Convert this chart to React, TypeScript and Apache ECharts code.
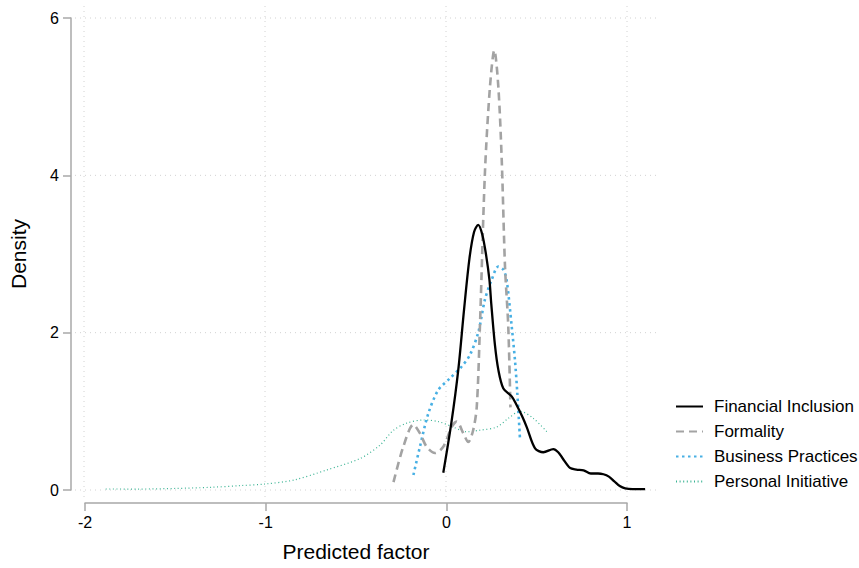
import React, { useEffect, useRef } from "react";
import * as echarts from "echarts";

// Financial Inclusion
const fiX = [-0.015, 0.03, 0.068, 0.10, 0.13, 0.155, 0.178, 0.20, 0.222, 0.24, 0.25, 0.27, 0.289, 0.317, 0.363, 0.39, 0.42, 0.446, 0.492, 0.538, 0.593, 0.62, 0.645, 0.685, 0.72, 0.76, 0.80, 0.84, 0.87, 0.90, 0.93, 0.96, 0.99, 1.03, 1.10];
const fiY = [0.22, 0.86, 1.53, 2.30, 2.95, 3.28, 3.37, 3.25, 2.98, 2.67, 2.37, 1.85, 1.53, 1.29, 1.19, 1.08, 0.94, 0.80, 0.53, 0.48, 0.52, 0.48, 0.40, 0.28, 0.26, 0.25, 0.21, 0.21, 0.20, 0.17, 0.11, 0.05, 0.02, 0.01, 0.01];

// Formality
const foX = [-0.29, -0.236, -0.18, -0.144, -0.107, -0.061, -0.015, 0.031, 0.059, 0.096, 0.123, 0.15, 0.17, 0.188, 0.215, 0.243, 0.267, 0.289, 0.308, 0.326, 0.344, 0.356];
const foY = [0.10, 0.55, 0.83, 0.72, 0.55, 0.47, 0.55, 0.80, 0.87, 0.72, 0.61, 0.76, 1.06, 2.12, 4.03, 5.13, 5.59, 5.13, 4.19, 2.84, 2.08, 1.05];

// Business Practices
const bpX = [-0.18, -0.144, -0.098, -0.043, 0.022, 0.087, 0.133, 0.179, 0.215, 0.252, 0.289, 0.317, 0.335, 0.363, 0.381, 0.394, 0.409];
const bpY = [0.19, 0.55, 0.97, 1.27, 1.42, 1.57, 1.72, 2.01, 2.42, 2.67, 2.84, 2.80, 2.67, 2.08, 1.65, 1.23, 0.64];

// Personal Initiative
const piX = [-1.88, -1.7, -1.49, -1.3, -1.14, -1.0, -0.84, -0.66, -0.475, -0.365, -0.29, -0.217, -0.125, -0.043, 0.04, 0.114, 0.188, 0.28, 0.344, 0.409, 0.483, 0.565];
const piY = [0.013, 0.012, 0.02, 0.034, 0.055, 0.076, 0.127, 0.254, 0.40, 0.57, 0.76, 0.85, 0.89, 0.87, 0.80, 0.74, 0.76, 0.80, 0.91, 1.0, 0.91, 0.72];

const seriesNames = ["Financial Inclusion", "Formality", "Business Practices", "Personal Initiative"];
const xTicks = [-2, -1, 0, 1];
const yTicks = [0, 2, 4, 6];

// plot region extent (in data units), slightly wider than the axis ranges
const PX_MIN = -2 - 9 / 181;
const PX_MAX = 1 + 31 / 181;
const PY_MIN = -7 / 78.667;
const PY_MAX = 6 + 12 / 78.667;

const zip = (xs: number[], ys: number[]) => xs.map((x, i) => [x, ys[i]]);

export default function App() {
  const ref = useRef<HTMLDivElement>(null);
  useEffect(() => {
    if (!ref.current) return;
    const chart = echarts.init(ref.current, null, { renderer: "svg" });
    const font = "Liberation Sans, Arial, Helvetica, sans-serif";
    const axisColor = "#a8a8a8";

    const lineSeries = (name: string, xs: number[], ys: number[], color: string, width: number, type: any, z: number) => ({
      name,
      type: "line",
      xAxisIndex: 0,
      yAxisIndex: 0,
      data: zip(xs, ys),
      symbol: "none",
      smooth: 0.3,
      clip: false,
      z,
      lineStyle: { color, width, type },
      itemStyle: { color },
    });

    chart.setOption({
      animation: false,
      backgroundColor: "#ffffff",
      textStyle: { fontFamily: font },
      grid: [
        // plot region (data)
        { left: 75, right: 201, top: 6, bottom: 71, containLabel: false },
        // visible axes, spanning the tick range only
        { left: 84, right: 232, top: 18, bottom: 78, containLabel: false },
      ],
      xAxis: [
        { type: "value", gridIndex: 0, min: PX_MIN, max: PX_MAX, show: false },
        {
          type: "value",
          gridIndex: 1,
          min: -2,
          max: 1,
          interval: 1,
          offset: 13,
          axisLine: { show: true, onZero: false, lineStyle: { color: axisColor, width: 1.5 } },
          axisTick: { show: true, length: 8, lineStyle: { color: axisColor, width: 1.5 } },
          axisLabel: { fontSize: 16, color: "#000", margin: 11, fontFamily: font },
          splitLine: { show: false },
          name: "Predicted factor",
          nameLocation: "middle",
          nameGap: 38,
          nameTextStyle: { fontSize: 21, color: "#000", fontFamily: font },
        },
      ],
      yAxis: [
        { type: "value", gridIndex: 0, min: PY_MIN, max: PY_MAX, show: false },
        {
          type: "value",
          gridIndex: 1,
          min: 0,
          max: 6,
          interval: 2,
          offset: 14,
          axisLine: { show: true, onZero: false, lineStyle: { color: axisColor, width: 1.5 } },
          axisTick: { show: true, length: 8, lineStyle: { color: axisColor, width: 1.5 } },
          axisLabel: { fontSize: 16, color: "#000", margin: 12, fontFamily: font },
          splitLine: { show: false },
          name: "Density",
          nameLocation: "middle",
          nameGap: 42,
          nameTextStyle: { fontSize: 21, color: "#000", fontFamily: font },
        },
      ],
      legend: {
        orient: "vertical",
        left: 670,
        top: 393,
        itemWidth: 27,
        itemHeight: 14,
        itemGap: 8,
        data: seriesNames,
        itemStyle: { opacity: 0 },
        textStyle: { fontSize: 17, color: "#000", fontFamily: font, padding: [0, 0, 0, 6] },
      },
      series: [
        lineSeries(seriesNames[3], piX, piY, "#3ab393", 1.2, [1, 2.6], 2),
        lineSeries(seriesNames[2], bpX, bpY, "#48b0e4", 2.6, [2.5, 3.5], 3),
        lineSeries(seriesNames[1], foX, foY, "#a3a3a3", 2.6, [8, 5], 4),
        lineSeries(seriesNames[0], fiX, fiY, "#000000", 2.3, "solid", 5),
      ],
    });

    // dotted gridlines spanning the plot region, positioned through the chart's own scales
    const toPx = (p: number[]) => chart.convertToPixel({ gridIndex: 0 }, p) as number[];
    const gStyle = { stroke: "#d2d2d2", lineWidth: 1, lineDash: [1, 4] };
    const graphics: any[] = [];
    yTicks.forEach((y) => {
      const a = toPx([PX_MIN, y]);
      const b = toPx([PX_MAX, y]);
      graphics.push({ type: "line", silent: true, z: 0, shape: { x1: a[0], y1: a[1], x2: b[0], y2: b[1] }, style: gStyle });
    });
    xTicks.forEach((x) => {
      const a = toPx([x, PY_MIN]);
      const b = toPx([x, PY_MAX]);
      graphics.push({ type: "line", silent: true, z: 0, shape: { x1: a[0], y1: a[1], x2: b[0], y2: b[1] }, style: gStyle });
    });
    chart.setOption({ graphic: graphics });

    return () => chart.dispose();
  }, []);
  return (
    <div
      ref={ref}
      style={{ position: "fixed", left: 0, top: 0, width: 859, height: 568, background: "#fff" }}
    />
  );
}
